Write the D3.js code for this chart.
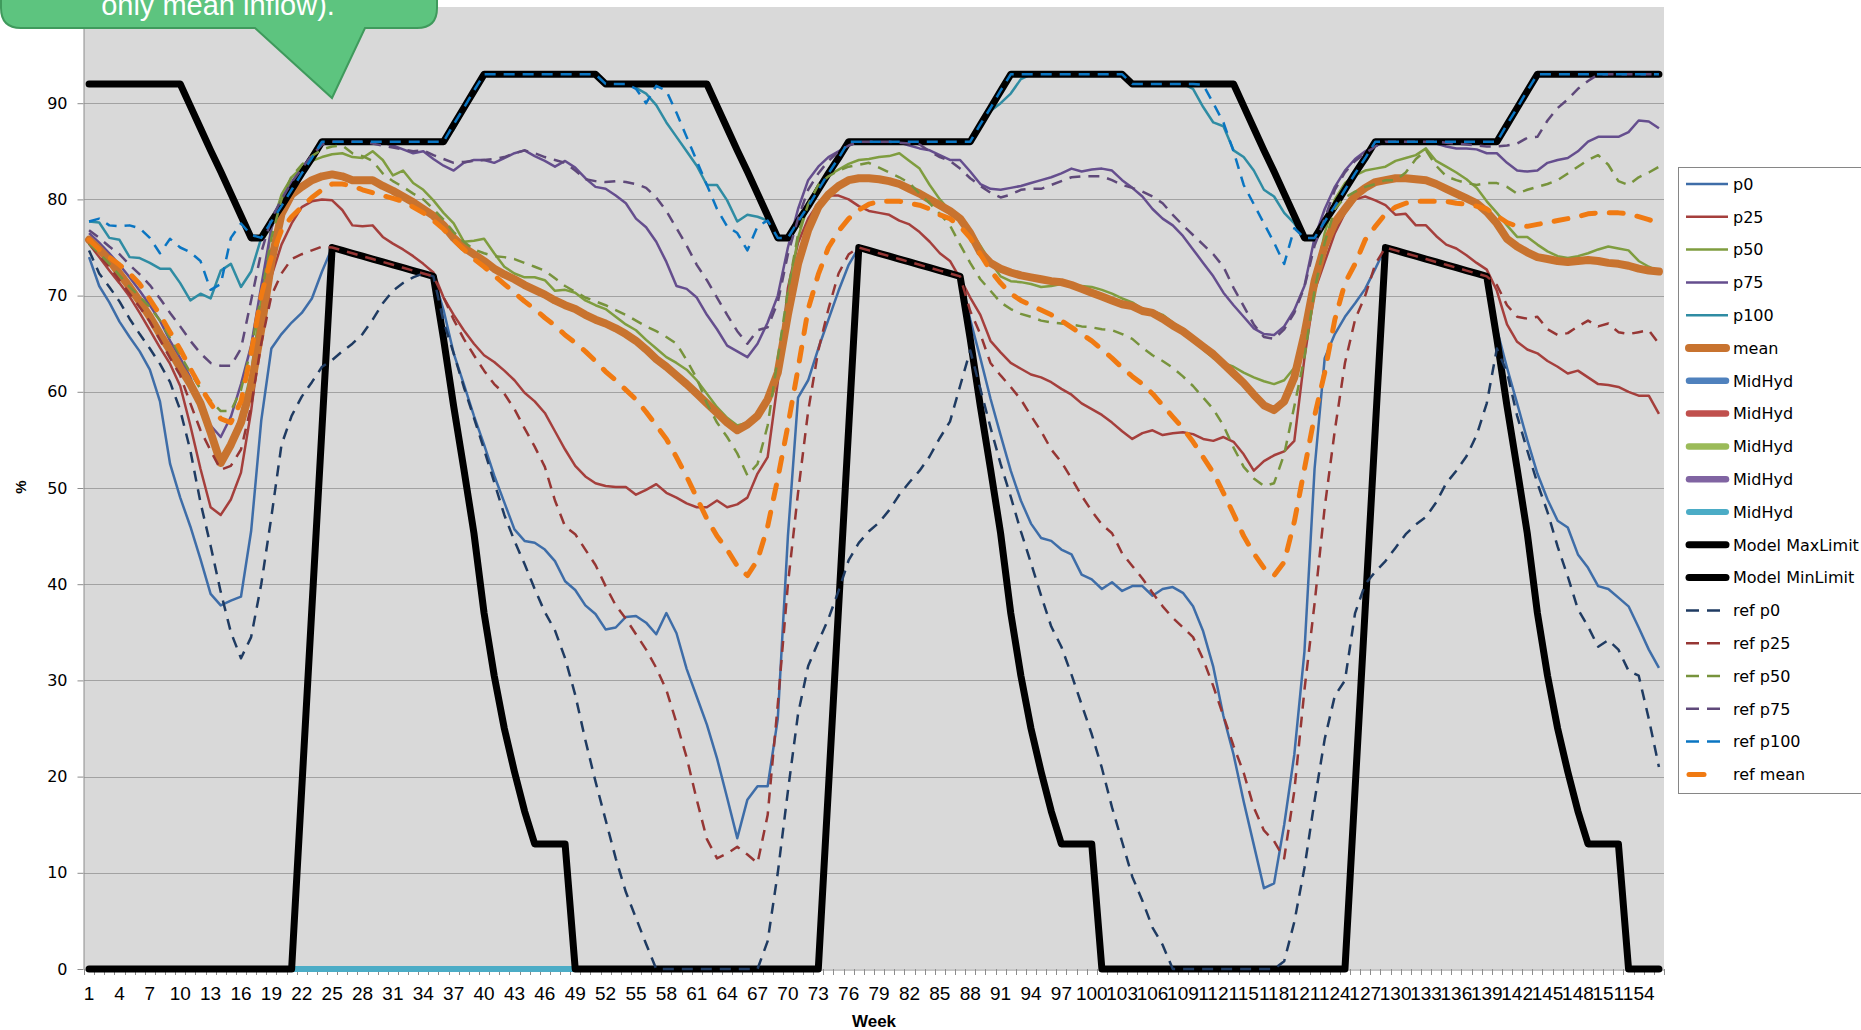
<!DOCTYPE html>
<html><head><meta charset="utf-8">
<script src="https://cdn.jsdelivr.net/npm/d3@7"></script>
<style>
html,body{margin:0;padding:0;background:#fff;overflow:hidden}
svg{display:block}
</style></head><body>
<svg id="chart" width="1861" height="1030"></svg>
<script>
const weeks = d3.range(1, 157);
const xTickLabels = weeks.filter(w => (w - 1) % 3 === 0);
const yTickLabels = [0,10,20,30,40,50,60,70,80,90];

const p0 = [74,71,69.3,67.3,65.7,64.2,62.3,59,52.5,49,
46,42.6,39,37.8,38.3,38.7,45.5,57,64.5,66,
67.2,68.2,69.7,72.5,75,74.7,74.4,74.1,73.8,73.5,
73.2,72.9,72.6,72.3,72,68.5,64,60.8,57.5,54.5,
51.3,48.5,45.7,44.5,44.3,43.6,42.4,40.3,39.4,37.8,
36.9,35.3,35.5,36.6,36.7,36,34.8,37,34.9,31.2,
28.3,25.4,21.9,17.8,13.6,17.6,19,19,26,45,
59.4,61.2,64.5,67.5,70.5,73.2,75,74.7,74.4,74.1,
73.8,73.5,73.2,72.9,72.6,72.3,72,67.5,63.5,59.3,
55.5,51.8,48.7,46.3,44.8,44.5,43.6,43.1,41,40.5,
39.5,40.2,39.3,39.8,39.8,38.8,39.5,39.7,39.1,37.7,
35.1,31.4,26.3,22.3,17.4,12.9,8.4,8.9,15,22.3,
33,52,63.5,66,67.8,69.2,70.7,72.8,75,74.7,
74.4,74.1,73.8,73.5,73.2,72.9,72.6,72.3,72,66.5,
62.5,58.8,55,51.5,48.8,46.6,45.9,43.1,41.7,39.8,
39.5,38.6,37.7,35.5,33.2,31.3];

const p25 = [75.4,74,72.6,71.3,69.9,68.2,66.4,64.6,62.9,60.6,
56.5,52,48,47.2,48.8,51.6,58,66.3,72,75.3,
77.5,79.2,79.8,80,79.9,78.9,77.3,77.2,77.3,76.1,
75.4,74.8,74.1,73.3,72.4,69.8,68,66.4,65,63.8,
63.1,62.2,61.2,59.9,59,57.8,55.9,54,52.3,51.2,
50.5,50.2,50.1,50.1,49.3,49.8,50.4,49.5,49,48.4,
48,48,48.7,48,48.3,49,51.5,53.2,61,70.8,
75.5,78,79.6,80.4,80.4,80,79.3,78.8,78.6,78.4,
77.8,77.4,76.6,75.6,74.4,73.6,71.8,69.8,68,65.3,
64.1,63,62.4,61.8,61.5,61,60.3,59.7,58.8,58.2,
57.6,56.8,55.9,55.1,55.7,56,55.5,55.7,55.8,55.6,
55.1,54.9,55.3,54.8,53.5,51.8,52.8,53.4,53.8,54.9,
63.5,70.5,73.5,76.5,78.6,80,80.3,79.9,79.4,78.4,
78.5,77.3,77.3,76.2,75.3,74.9,74.2,73.4,72.7,70.5,
67,65.2,64.4,64,63.2,62.6,61.9,62.2,61.5,60.8,
60.7,60.5,60,59.6,59.6,57.7];

const p50 = [75.6,74.5,73.4,72,70.6,69.1,67.5,65.8,64.1,62.3,
60.6,58.7,56.2,53.2,54.8,57.5,62,69.5,77,80.5,
82.3,83.3,84,84.4,84.7,84.8,84.4,84.3,85,84.1,
82.5,83,81.7,81,79.9,78.6,77.5,75.6,75.7,75.9,
74.4,73,72.3,71.9,71.9,71.6,70.5,70.6,70.3,69.5,
69,68.6,67.8,67,66.4,65.4,64.5,63.6,63,62.3,
61.2,59.8,58.4,57.3,56.5,56.8,57.4,59,62.5,70,
76,79.5,81.5,82.5,83.1,83.7,84.1,84.2,84.4,84.5,
84.8,84,83.2,81.5,80,78.8,77.7,76.8,75.2,73.5,
72,71.5,71.4,71.2,70.9,71,71.2,71.1,71,70.9,
70.6,70.2,69.7,69.3,68.6,68.4,68,67.2,66.5,65.5,
64.4,63.5,63,62.6,62,61.5,61.1,60.8,61.2,62.5,
66,71.5,76.5,80,81.7,82.5,83,83.2,83.4,84,
84.3,84.6,85.3,84,83.4,82.8,82.1,81.2,79.8,78.6,
77.3,76.1,76.1,75.3,74.6,74.1,73.9,74.1,74.4,74.8,
75.1,74.9,74.7,73.6,73,72.5];

const p75 = [76.5,75.5,74.4,73.2,71.9,70.5,69,67.4,65.3,63.5,
61.5,58.5,56.5,55.3,57.4,60.8,64.8,71,77,80,
81.8,83,84.5,85.7,86,86,86,86,86,85.9,
85.6,85.2,84.8,85,84.2,83.5,83,83.8,84.1,84.1,
83.8,84.3,84.8,85.1,84.5,84,83.4,84,83.3,82.2,
81.3,81.1,80.4,79.6,78,77.1,75.6,73.5,71,70.7,
69.8,68,66.5,64.8,64.2,63.6,65,67.2,70,75,
79,82,83.4,84.4,85,85.6,86,86,86,86,
85.9,85.6,85.3,85.1,84.6,84.1,84.1,82.9,81.6,81.1,
81,81.2,81.4,81.7,82,82.3,82.7,83.2,82.9,83.1,
83.2,83,82,81.2,80.3,79,78,77.3,76.2,74.8,
73.4,72,70.3,69,67.8,66.6,66,65.9,66.8,68.5,
71,76,79,81.3,83,84.2,85,85.6,85.9,86,
86,86,86,85.8,85.5,85.3,85.3,85.2,84.8,84.8,
83.8,83,82.9,83,83.8,84.1,84.3,85,86,86.5,
86.5,86.5,87,88.2,88.1,87.4];

const p100 = [77.7,77.6,76,75.8,74,73.9,73.4,72.8,72.8,71.3,
69.5,70.2,69.7,72.6,73.3,70.9,72.5,76,77.7,79.3,
81,82.7,84.3,86,86,86,86,86,86,86,
86,86,86,86,86,86,87.3,89.2,91,93,
93,93,93,93,93,93,93,93,93,93,
93,92,92,92,91.6,91,89.8,88,86.5,85,
83.5,81.5,81.5,79.9,77.7,78.4,78.2,77.8,76,76,
77.7,79.3,81,82.7,84.3,86,86,86,86,86,
86,86,86,86,86,86,86,86,87.8,89.2,
90,91,92.5,93,93,93,93,93,93,93,
93,93,93,92,92,92,92,92,92,91.5,
89.6,88,87.6,85.1,84.4,83,81,80.3,78.6,77.5,
76,76,77.7,79.3,81,82.7,84.3,86,86,86,
86,86,86,86,86,86,86,86,86,86,
87.8,89.5,91.3,93,93,93,93,93,93,93,
93,93,93,93,93,93];

const mean = [75.8,74.8,73.7,72.3,70.9,69.4,67.8,66,64.3,62.5,
60.8,58.8,55.8,52.6,54.5,56.8,60.5,66.5,73.5,78.5,
80.5,81.3,82,82.4,82.6,82.4,82,82,82,81.4,
80.9,80.3,79.7,79,78.3,77.3,76,75,74.3,73.6,
72.8,72.2,71.7,71.1,70.6,70.1,69.5,69,68.6,68,
67.5,67.1,66.6,66,65.3,64.4,63.4,62.6,61.7,60.8,
59.8,58.8,57.8,56.8,56,56.6,57.5,59.2,62,68,
73.3,76.8,79.2,80.5,81.4,82,82.2,82.2,82.1,81.9,
81.6,81.1,80.6,80,79.4,78.8,78,76.5,74.5,73.4,
72.8,72.4,72.1,71.9,71.7,71.5,71.4,71.1,70.7,70.3,
69.9,69.5,69.1,68.9,68.4,68.2,67.6,66.9,66.3,65.5,
64.7,63.9,62.9,61.9,60.9,59.7,58.6,58.1,59,61.5,
66,71.5,75.2,77.6,79,80.4,81.2,81.8,82,82.2,
82.2,82.1,82,81.6,81.1,80.6,80.1,79.6,78.7,77.5,
75.9,75.1,74.5,74,73.8,73.6,73.5,73.6,73.7,73.6,
73.4,73.3,73.1,72.8,72.6,72.5];

const midHyd1 = [];
const midHyd2 = [];
const midHyd3 = [];
const midHyd4 = [];
const midHyd5 = [0,0,0,0,0,0,0,0,0,0,0,0,0,0,0,0,0,0,0,0,0,0,0,0,0,0,
0,0,0,0,0,0,0,0,0,0,0,0,0,0,0,0,0,0,0,0,0,0,0,0,0,0];

const maxLimit = [92,92,92,92,92,92,92,92,92,92,
89.7,87.4,85.1,82.9,80.6,78.3,76,76,77.7,79.3,
81,82.7,84.3,86,86,86,86,86,86,86,
86,86,86,86,86,86,87.75,89.5,91.25,93,
93,93,93,93,93,93,93,93,93,93,
93,92,92,92,92,92,92,92,92,92,
92,92,89.7,87.4,85.1,82.9,80.6,78.3,76,76,
77.7,79.3,81,82.7,84.3,86,86,86,86,86,
86,86,86,86,86,86,86,86,87.75,89.5,
91.25,93,93,93,93,93,93,93,93,93,
93,93,93,92,92,92,92,92,92,92,
92,92,92,92,89.7,87.4,85.1,82.9,80.6,78.3,
76,76,77.7,79.3,81,82.7,84.3,86,86,86,
86,86,86,86,86,86,86,86,86,86,
87.75,89.5,91.25,93,93,93,93,93,93,93,
93,93,93,93,93,93];

const minLimit = [0,0,0,0,0,0,0,0,0,0,
0,0,0,0,0,0,0,0,0,0,
0,18.75,37.5,56.25,75,74.7,74.4,74.1,73.8,73.5,
73.2,72.9,72.6,72.3,72,65.5,58.5,52,45.3,37,
30.5,25,20.5,16.4,13,13,13,13,0,0,
0,0,0,0,0,0,0,0,0,0,
0,0,0,0,0,0,0,0,0,0,
0,0,0,18.75,37.5,56.25,75,74.7,74.4,74.1,
73.8,73.5,73.2,72.9,72.6,72.3,72,65.5,58.5,52,
45.3,37,30.5,25,20.5,16.4,13,13,13,13,
0,0,0,0,0,0,0,0,0,0,
0,0,0,0,0,0,0,0,0,0,
0,0,0,0,0,18.75,37.5,56.25,75,74.7,
74.4,74.1,73.8,73.5,73.2,72.9,72.6,72.3,72,65.5,
58.5,52,45.3,37,30.5,25,20.5,16.4,13,13,
13,13,0,0,0,0];

const refP0 = [74.7,72.3,70.9,69.4,67.6,66,64.5,62.9,61,58.1,
53.9,48.5,44,39.2,35,32.3,34.5,40,47,54.5,
57.5,59.5,61,62.6,63.3,64.2,65,66,67.5,69.2,
70.5,71.3,71.9,72.3,72,67.3,64,60.5,57.3,54,
50.6,47.2,44.5,42.1,39.5,37.1,35.2,32.3,28.5,23.8,
19.5,15.5,11.5,8,5.3,2.6,0,0,0,0,
0,0,0,0,0,0,0,2.9,10,18.5,
26.5,31.5,34,36.4,39.3,42.5,44.3,45.5,46.4,47.7,
49.3,50.6,51.8,53.3,55.2,56.9,60.6,64.3,60.3,56.3,
52.5,49.1,45.5,42.2,38.8,35.6,33.5,30.6,27.5,24.4,
20.9,16.8,13.2,9.6,7.1,4.3,2.5,0,0,0,
0,0,0,0,0,0,0,0,0.8,4.9,
10.5,17.5,23.9,28.4,30,37,40,41.3,42.4,43.8,
45.2,46.2,47,48.5,50.5,51.8,53.3,55.5,58.8,64.5,
62,57.5,53.9,50.5,47.5,43.9,40.8,37.4,35.6,33.5,
34.2,33.2,31,30.5,26,21];

const refP25 = [75.4,74.2,73,71.6,70.2,68.8,67.3,65.4,63.5,61.7,
58.8,56,53.9,51.9,52.3,54,58.5,65,70,72.3,
73.8,74.3,74.7,75.1,75,74.7,74.4,74.1,73.8,73.5,
73.2,72.9,72.6,72.3,72,69.8,67.5,65.5,63.8,62.2,
60.8,59.8,58.2,56.2,54.3,52.2,48.7,46,45.2,43.6,
42,39.8,37.8,36.4,34.8,33.2,31.3,29,25.6,22,
17.6,13.5,11.5,12,12.7,11.9,11,16,27.5,40,
49.5,58,64.3,68.6,72.3,74.3,75,74.7,74.4,74.1,
73.8,73.5,73.2,72.9,72.6,72.3,72,68.4,66,63,
61.7,60.5,59.2,57.5,55.9,54,52.7,51,49.2,47.6,
46.2,45.3,43.2,41.9,40.6,39.1,37.7,36.5,35.5,34.5,
32.2,29.4,26.3,23.2,20.4,16.8,14.4,13.3,11.5,18.5,
29,38,48,56,63,67.5,70,73.3,75,74.7,
74.4,74.1,73.8,73.5,73.2,72.9,72.6,72.3,72,71.1,
69,67.8,67.6,67.8,66.5,65.9,66.1,66.8,67.4,66.8,
67.1,66.2,66,66.2,66.4,65];

const refP50 = [75.4,74.4,73.3,72.1,70.9,69.9,68.8,67.4,65.6,63.8,
62,60.3,59.1,58,58,60.2,64.5,70,76,80,
82.4,83.6,84.5,85.2,85.5,85.6,84.8,84.5,84,82.7,
81.9,81.3,80.6,80,79,77.9,76.6,75.6,74.8,74.4,
74.1,74,73.8,73.4,73,72.6,71.8,71,70.4,69.8,
69.4,69,68.5,68,67.4,66.8,66.3,65.7,65,63.3,
61.4,58.8,56.8,55.3,53.6,51.3,52.5,56.5,63.5,70.5,
76.4,79.5,81.5,82.4,83,83.4,83.6,83.8,83.3,82.8,
82.3,81.7,80.6,79.6,78.5,77.3,75.3,73.4,71.7,70.5,
69.3,68.6,68.1,67.8,67.4,67.2,67.1,67,66.8,66.7,
66.5,66.4,66,65.5,64.6,63.8,63.2,62.5,61.6,60.6,
59.4,58.2,56.5,54.2,52.2,51,50.2,50.5,53.5,58.5,
63.6,70.6,75.5,79,80.2,80.8,81.3,81.6,82,82,
82.8,84.2,85.1,83.5,82.4,82,81.7,81.5,81.7,81.7,
81.3,80.6,81,81.3,81.6,82,82.7,83.4,84.1,84.6,
83.6,81.9,81.5,82.3,82.8,83.4];

const refP75 = [76.8,76,75.1,74.3,73.2,72.2,71.1,69.7,68.2,66.8,
65.3,64,63,62.7,62.7,64.5,69.5,74.5,78,80,
81.8,83.2,84.6,85.7,86,86,86,86,85.8,85.6,
85.4,85.2,85,85.1,84.6,84.2,83.8,83.9,84,84.1,
84.2,84.4,84.8,85.1,84.8,84.4,84.1,83.8,83,82.1,
81.9,81.8,81.9,81.8,81.6,81.2,80.2,78.8,77,75.2,
73.2,71.6,69.8,68,66.3,65,66.4,66.7,69.3,74.3,
78,81,82.7,84,85,85.6,86,86,86,86,
85.9,85.8,85.7,85,84.4,84,83.2,82.2,81.4,80.7,
80.2,80.5,81,81.1,81.1,81.5,81.9,82.3,82.4,82.4,
82.4,82,81.5,81.2,80.8,80.3,79.6,78.4,77.3,76.3,
75.3,74.3,73,70.8,68.9,67,65.7,65.5,66.5,68.2,
70.9,75.2,78,81,82.8,84,84.8,85.5,86,86,
86,86,86,86,85.9,85.8,85.7,85.6,85.5,85.5,
85.6,85.8,86.4,86.5,88.2,89.5,90.4,91.5,92.3,93,
93,93,93,93,93,93];

const refP100 = [77.7,78,77.3,77.2,77.3,77,76,74.4,75.9,75,
74.5,73.6,70.6,71.2,76,77.5,76.3,76,77.7,79.3,
81,82.7,84.3,86,86,86,86,86,86,86,
86,86,86,86,86,86,87.8,89.5,91.3,93,
93,93,93,93,93,93,93,93,93,93,
93,92,92,92,91.5,90,91.8,91.3,89,86.5,
84,81.5,79,77.2,76.5,74.7,77.2,77.8,76,76,
77.7,79.3,81,82.7,84.3,86,86,86,86,86,
86,86,86,86,86,86,86,86,87.8,89.5,
91.3,93,93,93,93,93,93,93,93,93,
93,93,93,92,92,92,92,92,92,92,
91.9,90,88,85,81.5,79.5,77.5,75.5,73.3,77,
76,76,77.7,79.3,81,82.7,84.3,86,86,86,
86,86,86,86,86,86,86,86,86,86,
87.8,89.5,91.3,93,93,93,93,93,93,93,
93,93,93,93,93,93];

const refMean = [75.8,74.8,74,73.2,72.3,71.2,69.6,68,66.2,64.4,
62.4,60.5,58.8,57.2,56.8,59,64,70,74,76.8,
78.2,79.2,80.2,81,81.6,81.6,81.4,81,80.7,80.4,
80.1,79.8,79.2,78.6,77.8,76.9,75.8,74.8,73.8,73,
72.1,71.2,70.3,69.4,68.6,67.7,66.9,65.9,65.1,64.2,
63.2,62.1,61.2,60.2,59.2,57.9,56.5,55.1,53.2,51.2,
49,46.8,45,43.6,41.9,40.9,42.5,46,51,56.5,
62.4,68.6,72.2,75,76.7,78,78.9,79.5,79.8,79.8,
79.8,79.6,79.4,79,78.4,78,77.2,76,74.3,72.6,
71.3,70.2,69.5,69,68.5,68,67.4,66.7,66,65.3,
64.4,63.5,62.5,61.6,60.8,59.8,58.6,57.4,56.2,54.8,
53.2,51.6,49.5,47.3,45,43.2,41.7,40.9,42.3,46.5,
52,57.5,62,67.5,71.3,73.3,75.8,77.2,78.5,79.2,
79.6,79.8,79.8,79.8,79.8,79.6,79.5,79.3,79,78.3,
77.6,77.2,77.2,77.4,77.6,77.8,78,78.2,78.5,78.6,
78.6,78.6,78.5,78.2,77.9,77.5];

const series = [
  {name:'p0', values:p0, color:'#3E6DA8', width:2.5},
  {name:'p25', values:p25, color:'#A53F3C', width:2.5},
  {name:'p50', values:p50, color:'#7F9D3F', width:2.5},
  {name:'p75', values:p75, color:'#654E8E', width:2.5},
  {name:'p100', values:p100, color:'#2F8CA3', width:2.5},
  {name:'mean', values:mean, color:'#C8732F', width:8, cap:'round'},
  {name:'MidHyd', values:midHyd1, color:'#4F81BD', width:6.5, cap:'round'},
  {name:'MidHyd', values:midHyd2, color:'#C0504D', width:6.5, cap:'round'},
  {name:'MidHyd', values:midHyd3, color:'#9BBB59', width:6.5, cap:'round'},
  {name:'MidHyd', values:midHyd4, color:'#8064A2', width:6.5, cap:'round'},
  {name:'MidHyd', values:midHyd5, color:'#4BACC6', width:6, cap:'round'},
  {name:'Model MaxLimit', values:maxLimit, color:'#000000', width:7, cap:'round'},
  {name:'Model MinLimit', values:minLimit, color:'#000000', width:7, cap:'round'},
  {name:'ref p0', values:refP0, color:'#1F3B62', width:2.5, dash:'11,8', legendDash:'13,8'},
  {name:'ref p25', values:refP25, color:'#963634', width:2.5, dash:'11,8', legendDash:'13,8'},
  {name:'ref p50', values:refP50, color:'#77933C', width:2.5, dash:'11,8', legendDash:'13,8'},
  {name:'ref p75', values:refP75, color:'#5F497A', width:2.5, dash:'11,8', legendDash:'13,8'},
  {name:'ref p100', values:refP100, color:'#0A75C2', width:2.5, dash:'11,8', legendDash:'13,8'},
  {name:'ref mean', values:refMean, color:'#F07A12', width:5, dash:'14,14', legendDash:'15,23', cap:'round'}
];

const svg = d3.select('#chart');
const M = {left:84, right:1664, top:7, bottom:969};
const x = d3.scaleBand().domain(weeks).range([M.left, M.right]);
const y = d3.scaleLinear().domain([0, 100]).range([M.bottom, M.top]);
const cx = w => x(w) + x.bandwidth() / 2;

// plot background
svg.append('rect').attr('x', M.left).attr('y', M.top)
  .attr('width', M.right - M.left).attr('height', M.bottom - M.top)
  .attr('fill', '#d9d9d9');

// gridlines
svg.append('g').selectAll('line').data(yTickLabels.filter(v => v > 0)).join('line')
  .attr('x1', M.left).attr('x2', M.right)
  .attr('y1', d => Math.round(y(d)) + 0.5).attr('y2', d => Math.round(y(d)) + 0.5)
  .attr('stroke', '#a2a2a2').attr('stroke-width', 1);

// y axis
const yAxis = svg.append('g').attr('transform', `translate(${M.left - 0.5},0)`)
  .call(d3.axisLeft(y).tickValues(yTickLabels).tickSize(6).tickSizeOuter(0).tickPadding(10));
yAxis.select('.domain').attr('stroke', '#8c8c8c');
yAxis.selectAll('.tick line').attr('stroke', '#8c8c8c');
yAxis.selectAll('.tick text').attr('font-family', '"DejaVu Sans", Verdana, sans-serif')
  .attr('font-size', 16).attr('fill', '#000');

// x axis
const xAxis = svg.append('g').attr('transform', `translate(0,${M.bottom + 0.5})`)
  .call(d3.axisBottom(x).tickValues(xTickLabels).tickSize(0).tickSizeOuter(0).tickPadding(17));
xAxis.select('.domain').attr('stroke', '#8c8c8c');
xAxis.selectAll('.tick text').attr('font-family', '"Liberation Sans Narrow", "Arial Narrow", "Liberation Sans", sans-serif')
  .attr('font-size', 19).attr('fill', '#000');
// category boundary tick marks
svg.append('g').selectAll('line').data(weeks.map(w => x(w)).concat([M.right])).join('line')
  .attr('x1', d => Math.round(d) + 0.5).attr('x2', d => Math.round(d) + 0.5)
  .attr('y1', M.bottom).attr('y2', M.bottom + 6)
  .attr('stroke', '#8c8c8c').attr('stroke-width', 1);

// series lines
const line = d3.line()
  .defined(d => d.v !== null && d.v !== undefined)
  .x(d => cx(d.w)).y(d => y(d.v));
const gLines = svg.append('g');
series.forEach(s => {
  if (!s.values.length) return;
  gLines.append('path')
    .datum(s.values.map((v, i) => ({w: weeks[i], v})))
    .attr('d', line)
    .attr('fill', 'none')
    .attr('stroke', s.color)
    .attr('stroke-width', s.width)
    .attr('stroke-linejoin', 'round')
    .attr('stroke-linecap', s.cap || 'butt')
    .attr('stroke-dasharray', s.dash || null);
});

// axis titles
svg.append('text').attr('x', 874).attr('y', 1027).attr('text-anchor', 'middle')
  .attr('font-family', '"Liberation Sans", Arial, sans-serif').attr('font-weight', 'bold')
  .attr('font-size', 17).text('Week');
svg.append('text').attr('transform', 'translate(26,487) rotate(-90)').attr('text-anchor', 'middle')
  .attr('font-family', '"Liberation Sans", Arial, sans-serif').attr('font-weight', 'bold')
  .attr('font-size', 15).text('%');

// legend
const L = {x:1678, y:167, w:200, h:626, first:184, step:32.8};
svg.append('rect').attr('x', L.x + 0.5).attr('y', L.y + 0.5).attr('width', L.w).attr('height', L.h)
  .attr('fill', '#fff').attr('stroke', '#868686').attr('stroke-width', 1);
const lg = svg.append('g').selectAll('g').data(series).join('g')
  .attr('transform', (d, i) => `translate(0,${L.first + i * L.step})`);
lg.append('line')
  .attr('x1', d => d.cap === 'round' ? 1689 : 1686)
  .attr('x2', d => d.cap === 'round' ? (d.dash ? 1726.5 : 1726) : 1728)
  .attr('y1', 0).attr('y2', 0)
  .attr('stroke', d => d.color)
  .attr('stroke-width', d => d.width)
  .attr('stroke-linecap', d => d.cap || 'butt')
  .attr('stroke-dasharray', d => d.legendDash || null);
lg.append('text').attr('x', 1733).attr('y', 0).attr('dy', '0.36em')
  .attr('font-family', '"DejaVu Sans", Verdana, sans-serif').attr('font-size', 16)
  .attr('fill', '#000').text(d => d.name);

// callout
const callout = svg.append('g');
callout.append('path')
  .attr('d', 'M1,-60 L1,8 Q1,28 21,28 L255,28 L332,98 L365,28 L417,28 Q437,28 437,8 L437,-60 Z')
  .attr('fill', '#5DC47F').attr('stroke', '#3F9A5C').attr('stroke-width', 2);
callout.append('text').attr('x', 218).attr('y', 15).attr('text-anchor', 'middle')
  .attr('font-family', '"Liberation Sans", Arial, sans-serif').attr('font-size', 29)
  .attr('fill', '#fff').text('only mean inflow).');
</script>
</body></html>
